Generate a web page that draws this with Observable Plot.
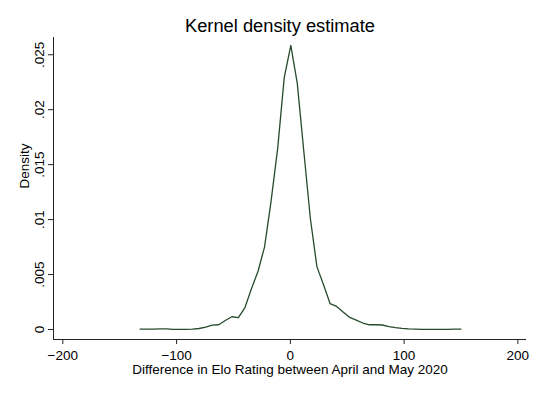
<!DOCTYPE html>
<html>
<head>
<meta charset="utf-8">
<script src="https://cdn.jsdelivr.net/npm/d3@7"></script>
<script src="https://cdn.jsdelivr.net/npm/@observablehq/plot@0.6"></script>
<style>
  html, body { margin: 0; padding: 0; background: #fff; }
  #wrap { width: 540px; height: 393px; overflow: hidden; font-family: "Liberation Sans", Arial, sans-serif; }
  #title { box-sizing: border-box; height: 34px; padding-top: 17px; line-height: 18px; font-size: 18.3px; text-align: center; color: #000; padding-left: 20px; }
</style>
</head>
<body>
<div id="wrap">
  <div id="title">Kernel density estimate</div>
  <div id="chart"></div>
</div>
<script>
// Evaluation points (Elo rating difference)
const xs = [-132.0, -126.2, -120.5, -114.7, -109.0, -103.2, -97.5, -91.7, -86.0, -80.2,
            -74.4, -68.7, -62.9, -57.2, -51.4, -45.7, -39.9, -34.2, -28.4, -22.7,
            -16.9, -11.1, -5.4, 0.4, 6.1, 11.9, 17.6, 23.4, 29.1, 34.9,
            40.7, 46.4, 52.2, 57.9, 63.7, 69.4, 75.2, 80.9, 86.7, 92.5,
            98.2, 104.0, 109.7, 115.5, 121.2, 127.0, 132.7, 138.5, 144.2, 150.0];
// Estimated density at each point
const dens = [0.00003, 0.00004, 0.00004, 0.00006, 0.00005, 0.00002, 0.00001, 0.00002, 0.00004, 0.00009,
              0.00022, 0.00040, 0.00043, 0.00082, 0.00116, 0.00108, 0.00200, 0.00370, 0.00530, 0.00750,
              0.01170, 0.01650, 0.02290, 0.02585, 0.02240, 0.01615, 0.01010, 0.00570, 0.00410, 0.00236,
              0.00210, 0.00159, 0.00110, 0.00086, 0.00059, 0.00043, 0.00043, 0.00041, 0.00027, 0.00018,
              0.00011, 0.00006, 0.00003, 0.00001, 0.00001, 0.00001, 0.00002, 0.00002, 0.00003, 0.00003];
const xTicks = [-200, -100, 0, 100, 200];
const yTicks = [0, 0.005, 0.01, 0.015, 0.02, 0.025];
const xDomain = [-208.2, 207.6];
const yDomain = [-0.00091, 0.02657];
const xTitle = "Difference in Elo Rating between April and May 2020";
const yTitle = "Density";

const data = xs.map((x, i) => ({x, y: dens[i]}));
const fmtY = d => d === 0 ? "0" : String(+d.toFixed(3)).replace(/^0/, "");

const chart = Plot.plot({
  width: 540,
  height: 359,
  marginTop: 3,
  marginBottom: 54,
  marginLeft: 53,
  marginRight: 14,
  style: { fontFamily: "Liberation Sans, Arial, sans-serif", fontSize: "13.5px", color: "#000", background: "#fff" },
  x: { domain: xDomain, label: null },
  y: { domain: yDomain, label: null },
  marks: [
    Plot.ruleY([yDomain[0]], { stroke: "#222", strokeWidth: 1 }),
    Plot.ruleX([xDomain[0]], { stroke: "#222", strokeWidth: 1 }),
    Plot.axisX(xTicks, { tickSize: 5, tickPadding: 5.5, stroke: "#222", fill: "#000", fontSize: 13.5, label: null }),
    Plot.axisY(yTicks, { tickSize: 5, tickRotate: -90, tickPadding: 5, tickFormat: fmtY, stroke: "#222", fill: "#000", fontSize: 13.5, label: null }),
    Plot.line(data, { x: "x", y: "y", stroke: "#274a2c", strokeWidth: 1.3 }),
    Plot.text([xTitle], { frameAnchor: "bottom", dy: 25.4, lineAnchor: "top", text: d => d, fontSize: 13.5, fill: "#000" }),
    Plot.text([yTitle], { frameAnchor: "left", dx: -25, rotate: -90, lineAnchor: "bottom", text: d => d, fontSize: 13.5, fill: "#000" })
  ]
});
document.getElementById("chart").appendChild(chart);
</script>
</body>
</html>
